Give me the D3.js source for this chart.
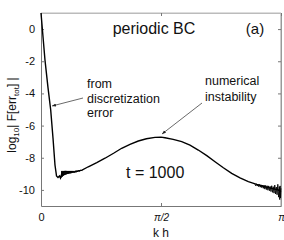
<!DOCTYPE html>
<html><head><meta charset="utf-8">
<script src="https://cdn.jsdelivr.net/npm/d3@7"></script>
<style>body{margin:0;background:#fff}svg{display:block}text{font-family:"Liberation Sans",Arial,sans-serif;fill:#111}</style>
</head><body>
<script>
const khMain = [0,0.052,0.092,0.127,0.157,0.183,0.203,0.2225,0.242,0.255,0.275,0.314,0.38,0.445,0.537,0.619,0.73,0.838,0.95,1.056,1.165,1.274,1.38,1.492,1.57,1.623,1.73,1.842,1.95,2.059,2.17,2.278,2.387,2.496,2.605,2.714,2.823,2.932,3.02,3.106,3.1416];
const errMain = [1.0,-1.92,-3.66,-5.03,-6.77,-8.45,-9.13,-9.23,-9.13,-9.26,-8.95,-8.85,-8.88,-8.87,-8.77,-8.56,-8.3,-8.03,-7.72,-7.41,-7.17,-6.96,-6.82,-6.73,-6.72,-6.76,-6.86,-7.0,-7.22,-7.52,-7.87,-8.25,-8.62,-8.97,-9.25,-9.49,-9.66,-9.8,-9.9,-10.0,-10.1];
const khNoise1 = [0.265,0.272,0.279,0.286,0.293,0.30,0.307,0.314,0.321,0.328,0.335,0.342,0.349,0.356,0.363,0.37,0.377,0.384,0.391,0.398,0.405,0.412,0.42,0.43,0.44,0.45,0.46,0.47,0.48,0.49,0.50,0.52,0.54];
const errNoise1 = [-9.25,-8.82,-9.18,-8.82,-9.12,-8.82,-9.08,-8.82,-9.05,-8.82,-9.03,-8.82,-9.01,-8.82,-9.0,-8.82,-8.98,-8.82,-8.97,-8.82,-8.95,-8.82,-8.94,-8.82,-8.92,-8.81,-8.9,-8.8,-8.87,-8.79,-8.84,-8.78,-8.8];
const khNoise2 = [2.80,2.81,2.82,2.83,2.84,2.85,2.86,2.87,2.88,2.89,2.90,2.91,2.92,2.93,2.94,2.95,2.96,2.97,2.98,2.99,3.00,3.01,3.02,3.03,3.04,3.05,3.06,3.07,3.08,3.09,3.10,3.11,3.12,3.125,3.13,3.135,3.14];
const errNoise2 = [-9.66,-9.74,-9.62,-9.76,-9.64,-9.80,-9.66,-9.83,-9.68,-9.86,-9.70,-9.90,-9.70,-9.95,-9.72,-9.98,-9.74,-10.02,-9.75,-10.05,-9.78,-10.1,-9.74,-10.15,-9.8,-10.2,-9.7,-10.25,-9.82,-10.3,-9.65,-10.45,-9.8,-10.6,-9.75,-10.5,-9.9];
const yTicks = [0,-2,-4,-6,-8,-10];
const xTicks = [0, Math.PI/2, Math.PI];
const xTickLabels = ["0","\u03c0/2","\u03c0"];

const W=284,H=240;
const svg=d3.select("body").append("svg").attr("width",W).attr("height",H);
const x=d3.scaleLinear().domain([0,Math.PI]).range([41,281]);
const y=d3.scaleLinear().domain([-11,1]).range([206,13]);

// frame
svg.append("line").attr("x1",41).attr("x2",281).attr("y1",13).attr("y2",13).attr("stroke","#bbb");
svg.append("line").attr("x1",281).attr("x2",281).attr("y1",13).attr("y2",206).attr("stroke","#999");
// axes
const ax=svg.append("g").attr("transform","translate(0,206)").call(d3.axisBottom(x).tickValues(xTicks).tickSizeInner(-3).tickSizeOuter(0).tickFormat((d,i)=>xTickLabels[i]));
const ay=svg.append("g").attr("transform","translate(41,0)").call(d3.axisLeft(y).tickValues(yTicks).tickSizeInner(-3).tickSizeOuter(0).tickFormat(d=>d===0?"0":"-"+Math.abs(d)));
svg.append("g").attr("transform","translate(281,0)").call(d3.axisRight(y).tickValues(yTicks).tickSizeInner(-3).tickSizeOuter(0).tickFormat(""));
svg.append("g").attr("transform","translate(0,13)").call(d3.axisTop(x).tickValues(xTicks).tickSizeInner(-3).tickSizeOuter(0).tickFormat(""));
svg.selectAll(".domain").attr("stroke","#777");
svg.selectAll(".tick line").attr("stroke","#777");
ax.selectAll(".tick text").attr("font-size",11).attr("dy",0).attr("y",15).attr("fill","#111");
ax.selectAll(".tick text").filter((d,i)=>i>0).attr("font-style","italic").attr("font-size",10);
ay.selectAll(".tick text").attr("font-size",11).attr("x",-6).attr("fill","#111");
svg.selectAll(".domain").filter(function(){return this.parentNode.getAttribute("transform")==="translate(0,13)";}).attr("stroke","#bbb");
svg.selectAll(".domain").filter(function(){return this.parentNode.getAttribute("transform")==="translate(281,0)";}).attr("stroke","#999");

// data lines
const line=d3.line().x(d=>x(d[0])).y(d=>y(d[1]));
svg.append("path").datum(khMain.map((k,i)=>[k,errMain[i]])).attr("d",line).attr("fill","none").attr("stroke","#000").attr("stroke-width",1.4);
svg.append("path").datum(khNoise1.map((k,i)=>[k,errNoise1[i]])).attr("d",line).attr("fill","none").attr("stroke","#000").attr("stroke-width",1);
svg.append("path").datum(khNoise2.map((k,i)=>[k,errNoise2[i]])).attr("d",line).attr("fill","none").attr("stroke","#000").attr("stroke-width",0.9);

// texts
svg.append("text").attr("x",154).attr("y",34).attr("text-anchor","middle").attr("font-size",16).text("periodic BC");
svg.append("text").attr("x",255).attr("y",34).attr("text-anchor","middle").attr("font-size",15).text("(a)");
const t1=svg.append("text").attr("font-size",12.5);
["from","discretization","error"].forEach((s,i)=>t1.append("tspan").attr("x",87).attr("y",88+i*14.5).text(s));
const t2=svg.append("text").attr("font-size",12.5);
["numerical","instability"].forEach((s,i)=>t2.append("tspan").attr("x",205).attr("y",85+i*15.5).text(s));
svg.append("text").attr("x",126).attr("y",178).attr("font-size",16).text("t = 1000");
svg.append("text").attr("x",161).attr("y",237).attr("text-anchor","middle").attr("font-size",12).text("k h");

// y label
const yl=svg.append("text").attr("transform","translate(16,115) rotate(-90)").attr("text-anchor","middle").attr("font-size",12);
yl.append("tspan").text("log");
yl.append("tspan").attr("font-size",8).attr("dy",3).text("10");
yl.append("tspan").attr("dy",-3).text("| F[err");
yl.append("tspan").attr("font-size",8).attr("dy",3).text("tot");
yl.append("tspan").attr("dy",-3).text("] |");

// arrows
const defs=svg.append("defs");
defs.append("marker").attr("id","ah").attr("viewBox","0 0 10 10").attr("refX",10).attr("refY",5).attr("markerWidth",5).attr("markerHeight",5).attr("orient","auto")
 .append("path").attr("d","M0,1 L10,5 L0,9 Z").attr("fill","#222");
svg.append("line").attr("x1",83).attr("y1",98).attr("x2",52).attr("y2",106).attr("stroke","#444").attr("stroke-width",0.8).attr("marker-end","url(#ah)");
svg.append("line").attr("x1",202).attr("y1",103).attr("x2",162).attr("y2",134).attr("stroke","#444").attr("stroke-width",0.8).attr("marker-end","url(#ah)");
</script>
</body></html>
